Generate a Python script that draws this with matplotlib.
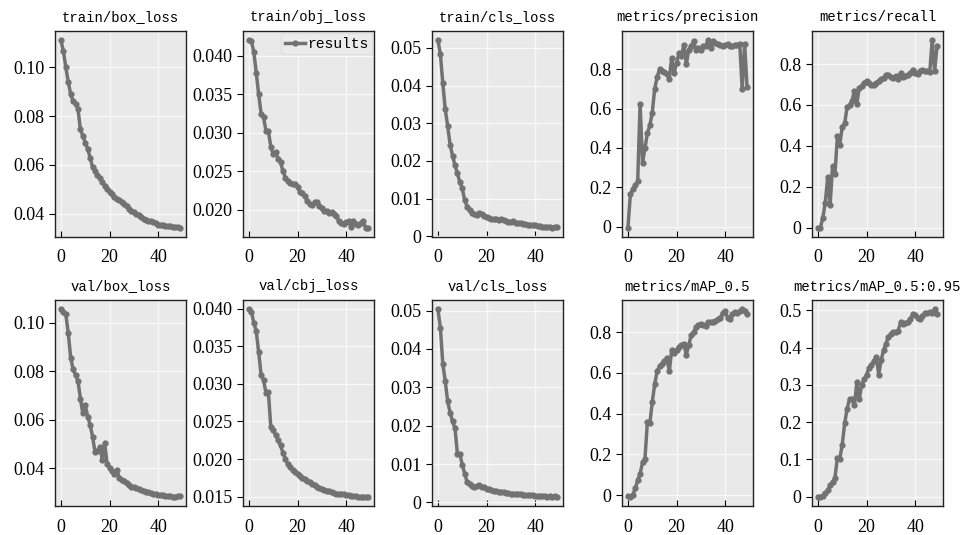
import matplotlib
matplotlib.use("Agg")
import matplotlib.pyplot as plt
import numpy as np

epochs = list(range(50))

titles = ["train/box_loss", "train/obj_loss", "train/cls_loss", "metrics/precision", "metrics/recall",
          "val/box_loss", "val/cbj_loss", "val/cls_loss", "metrics/mAP_0.5", "metrics/mAP_0.5:0.95"]

train_box_loss = [0.111, 0.1065, 0.100, 0.094, 0.089, 0.086, 0.085, 0.083, 0.0745, 0.072,
                  0.069, 0.0665, 0.063, 0.059, 0.0575, 0.056, 0.0545, 0.053, 0.0515, 0.050,
                  0.049, 0.048, 0.047, 0.0462, 0.0455, 0.045, 0.044, 0.043, 0.042, 0.0412,
                  0.0405, 0.040, 0.0395, 0.0388, 0.038, 0.0375, 0.037, 0.0372, 0.0368, 0.036,
                  0.0355, 0.0352, 0.0352, 0.035, 0.0348, 0.0349, 0.0346, 0.0345, 0.0344, 0.0343]

train_obj_loss = [0.0420, 0.0419, 0.0405, 0.0378, 0.0350, 0.0325, 0.0320, 0.0303, 0.0302, 0.0282,
                  0.0272, 0.0275, 0.0266, 0.0262, 0.0250, 0.0242, 0.0238, 0.0235, 0.0234, 0.0233,
                  0.0230, 0.0223, 0.0222, 0.0218, 0.0212, 0.0208, 0.0207, 0.0210, 0.0210, 0.0205,
                  0.0202, 0.0198, 0.0199, 0.0196, 0.0197, 0.0195, 0.0192, 0.0185, 0.0183, 0.0182,
                  0.0184, 0.0185, 0.0178, 0.0186, 0.0182, 0.0181, 0.0183, 0.0185, 0.0177, 0.0177]

train_cls_loss = [0.0520, 0.0483, 0.0406, 0.0337, 0.0293, 0.0243, 0.0214, 0.0188, 0.0167, 0.0144,
                  0.0127, 0.0096, 0.0079, 0.0070, 0.0062, 0.0058, 0.0057, 0.0062, 0.0058, 0.0055,
                  0.0050, 0.0049, 0.0046, 0.0045, 0.0047, 0.0043, 0.0045, 0.0042, 0.0040, 0.0038,
                  0.0039, 0.0040, 0.0036, 0.0035, 0.0034, 0.0033, 0.0032, 0.0031, 0.0031, 0.0029,
                  0.0029, 0.0028, 0.0027, 0.0025, 0.0026, 0.0024, 0.0026, 0.0023, 0.0025, 0.0024]

precision = [-0.005, 0.167, 0.19, 0.21, 0.23, 0.625, 0.325, 0.40, 0.475, 0.515,
             0.58, 0.70, 0.76, 0.80, 0.79, 0.787, 0.775, 0.753, 0.858, 0.78,
             0.833, 0.883, 0.867, 0.925, 0.825, 0.90, 0.917, 0.942, 0.90, 0.908,
             0.90, 0.917, 0.92, 0.947, 0.908, 0.942, 0.933, 0.93, 0.925, 0.92,
             0.925, 0.93, 0.917, 0.917, 0.925, 0.925, 0.93, 0.70, 0.93, 0.71]

recall = [0.0, 0.0, 0.048, 0.12, 0.247, 0.11, 0.30, 0.263, 0.446, 0.406,
          0.494, 0.51, 0.59, 0.598, 0.62, 0.67, 0.605, 0.685, 0.693, 0.709,
          0.717, 0.709, 0.70, 0.70, 0.709, 0.717, 0.725, 0.733, 0.749, 0.749,
          0.738, 0.733, 0.741, 0.728, 0.757, 0.738, 0.744, 0.749, 0.754, 0.773,
          0.757, 0.752, 0.765, 0.77, 0.765, 0.765, 0.76, 0.916, 0.765, 0.888]

val_box_loss = [0.1056, 0.1046, 0.1036, 0.0958, 0.0857, 0.0808, 0.0785, 0.0760, 0.0687, 0.0626,
                0.0660, 0.0613, 0.0579, 0.0530, 0.0468, 0.0470, 0.0488, 0.0435, 0.0502, 0.0415,
                0.0400, 0.0388, 0.0375, 0.0392, 0.0360, 0.0352, 0.0346, 0.0337, 0.0330, 0.0323,
                0.0320, 0.0317, 0.0313, 0.0310, 0.0306, 0.0303, 0.0300, 0.0297, 0.0294, 0.0293,
                0.0290, 0.0290, 0.0287, 0.0284, 0.0283, 0.0283, 0.0282, 0.0282, 0.0284, 0.0285]

val_obj_loss = [0.0399, 0.0396, 0.0381, 0.0370, 0.0342, 0.0312, 0.0305, 0.0288, 0.0289, 0.0242,
                0.0238, 0.0232, 0.0225, 0.0218, 0.0208, 0.0200, 0.0193, 0.0190, 0.0185, 0.0183,
                0.0180, 0.0178, 0.0175, 0.0173, 0.0171, 0.0169, 0.0167, 0.0165, 0.0163, 0.0162,
                0.0160, 0.0159, 0.0158, 0.0157, 0.0156, 0.0155, 0.0154, 0.0154, 0.0153, 0.0153,
                0.0152, 0.0152, 0.0151, 0.0151, 0.0151, 0.0150, 0.0150, 0.0150, 0.0150, 0.0150]

val_cls_loss = [0.0503, 0.0454, 0.0361, 0.0316, 0.0263, 0.0234, 0.0211, 0.0194, 0.0127, 0.0127,
                0.0098, 0.0075, 0.0053, 0.0049, 0.0042, 0.0040, 0.0042, 0.0045, 0.0039, 0.0040,
                0.0036, 0.0035, 0.0032, 0.0030, 0.0029, 0.0028, 0.0027, 0.0026, 0.0025, 0.0024,
                0.0023, 0.0023, 0.0022, 0.0021, 0.0021, 0.0020, 0.0019, 0.0019, 0.0018, 0.0018,
                0.0017, 0.0017, 0.0016, 0.0016, 0.0016, 0.0015, 0.0016, 0.0015, 0.0016, 0.0015]

map50 = [-0.005, -0.008, 0.0, 0.032, 0.072, 0.104, 0.16, 0.179, 0.36, 0.352,
         0.456, 0.544, 0.608, 0.632, 0.643, 0.656, 0.675, 0.608, 0.712, 0.696,
         0.712, 0.728, 0.736, 0.744, 0.688, 0.736, 0.784, 0.80, 0.824, 0.835,
         0.84, 0.835, 0.832, 0.848, 0.851, 0.851, 0.856, 0.864, 0.872, 0.896,
         0.904, 0.872, 0.864, 0.888, 0.899, 0.896, 0.904, 0.912, 0.904, 0.888]

map50_95 = [0.0, 0.0, 0.003, 0.009, 0.017, 0.031, 0.039, 0.05, 0.105, 0.102,
            0.14, 0.197, 0.236, 0.262, 0.262, 0.245, 0.307, 0.262, 0.30, 0.315,
            0.328, 0.345, 0.354, 0.363, 0.376, 0.328, 0.367, 0.393, 0.411, 0.428,
            0.437, 0.441, 0.441, 0.446, 0.468, 0.463, 0.466, 0.468, 0.476, 0.49,
            0.487, 0.481, 0.476, 0.485, 0.492, 0.492, 0.496, 0.494, 0.503, 0.49]

series = [train_box_loss, train_obj_loss, train_cls_loss, precision, recall,
          val_box_loss, val_obj_loss, val_cls_loss, map50, map50_95]

yticks = [
    [0.04, 0.06, 0.08, 0.10],
    [0.020, 0.025, 0.030, 0.035, 0.040],
    [0, 0.01, 0.02, 0.03, 0.04, 0.05],
    [0, 0.2, 0.4, 0.6, 0.8],
    [0, 0.2, 0.4, 0.6, 0.8],
    [0.04, 0.06, 0.08, 0.10],
    [0.015, 0.020, 0.025, 0.030, 0.035, 0.040],
    [0, 0.01, 0.02, 0.03, 0.04, 0.05],
    [0, 0.2, 0.4, 0.6, 0.8],
    [0, 0.1, 0.2, 0.3, 0.4, 0.5],
]
yticklabels = [
    ["0.04", "0.06", "0.08", "0.10"],
    ["0.020", "0.025", "0.030", "0.035", "0.040"],
    ["0", "0.01", "0.02", "0.03", "0.04", "0.05"],
    ["0", "0.2", "0.4", "0.6", "0.8"],
    ["0", "0.2", "0.4", "0.6", "0.8"],
    ["0.04", "0.06", "0.08", "0.10"],
    ["0.015", "0.020", "0.025", "0.030", "0.035", "0.040"],
    ["0", "0.01", "0.02", "0.03", "0.04", "0.05"],
    ["0", "0.2", "0.4", "0.6", "0.8"],
    ["0", "0.1", "0.2", "0.3", "0.4", "0.5"],
]
xticks = [0, 20, 40]
xticklabels = ["0", "20", "40"]

W, H = 962, 535
fig = plt.figure(figsize=(W / 100, H / 100), dpi=100)
fig.patch.set_facecolor("white")

col_left = [55, 243, 432, 622, 812]
ax_w = 131
row_top = [31, 300]
ax_h = 206

line_color = "#727272"
face = "#e9e9e9"

for i in range(10):
    r, c = divmod(i, 5)
    left = col_left[c] / W
    bottom = 1 - (row_top[r] + ax_h) / H
    ax = fig.add_axes([left, bottom, ax_w / W, ax_h / H])
    ax.set_facecolor(face)
    ax.grid(True, color="#f8f8f8", linewidth=1.0)
    ax.set_axisbelow(True)
    ax.plot(epochs, series[i], marker=".", color=line_color, linewidth=2.5,
            markersize=7, label="results")
    ax.set_title(titles[i], fontsize=10, family="Liberation Mono", pad=7)
    ax.set_xticks(xticks)
    ax.set_xticklabels(xticklabels)
    ax.set_yticks(yticks[i])
    ax.set_yticklabels(yticklabels[i])
    ax.tick_params(axis="x", direction="in", length=4, labelsize=13, pad=9)
    ax.tick_params(axis="y", direction="out", length=4, labelsize=13)
    for lab in ax.get_xticklabels() + ax.get_yticklabels():
        lab.set_family("Liberation Serif")
    for sp in ax.spines.values():
        sp.set_color("#222222")
        sp.set_linewidth(1.0)
    if i == 1:
        leg = ax.legend(loc="upper right", handlelength=1.4,
                        handletextpad=0.1, borderpad=0.25, borderaxespad=0.15,
                        frameon=True, prop={"family": "Liberation Mono", "size": 10.5})
        leg.get_frame().set_facecolor("#ececec")
        leg.get_frame().set_edgecolor("#dddddd")

fig.savefig("out.png", dpi=100)
